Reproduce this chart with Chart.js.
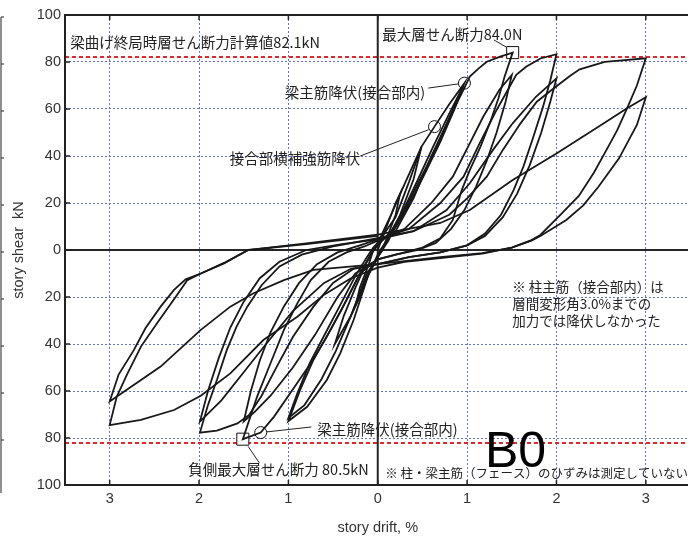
<!DOCTYPE html>
<html>
<head>
<meta charset="utf-8">
<script src="https://cdn.jsdelivr.net/npm/chart.js@4.4.1/dist/chart.umd.min.js"></script>
<style>
  html, body { margin: 0; padding: 0; background: #fff; overflow: hidden; }
  #wrap { width: 700px; height: 539px; }
</style>
</head>
<body>
<div id="wrap"><canvas id="c" width="700" height="539"></canvas></div>
<script>
// Story drift (%) and story shear (kN) recorded for each loading cycle, as [drift, shear]
const cycle025 = [[0,0],[0.1,10],[0.2,20],[0.25,24],[0.2,15],[0.1,5],[0.05,0],[0,-3],[-0.1,-10],[-0.2,-20],[-0.25,-24],[-0.2,-16],[-0.1,-6],[-0.05,0],[0,3]];
const cycle050 = [[0,3],[0.15,15],[0.3,28],[0.49,44],[0.4,30],[0.25,15],[0.12,4],[0.05,0],[0,-3],[-0.15,-14],[-0.3,-28],[-0.48,-40],[-0.38,-28],[-0.25,-16],[-0.12,-5],[-0.05,0],[0,3]];
const cycle100a = [[0,3],[0.2,14],[0.35,29],[0.49,44],[0.635,52.5],[0.8,62],[0.97,71],[0.84,59.6],[0.66,44],[0.47,29.8],[0.32,18.4],[0.21,11.3],[0.1,4],[0.03,0],[0,-2],[-0.1,-10],[-0.27,-29.8],[-0.42,-44],[-0.57,-55.3],[-0.79,-66.7],[-1.0,-72.8],[-0.87,-59.6],[-0.72,-46.8],[-0.53,-34],[-0.35,-21.3],[-0.2,-10],[-0.08,-2],[0,2]];
const cycle100b = [[0,2],[0.15,8],[0.3,18],[0.45,30],[0.62,44],[0.8,58],[0.96,70],[0.86,60],[0.7,46],[0.52,32],[0.36,20],[0.24,12],[0.12,5],[0.05,0],[0,-3],[-0.12,-10],[-0.3,-28],[-0.47,-43],[-0.63,-55],[-0.82,-66],[-1.0,-71.5],[-0.9,-61],[-0.76,-48],[-0.58,-35],[-0.4,-22],[-0.25,-11],[-0.12,-3],[-0.05,1],[0,3]];
const cycle150a = [[0,3],[0.2,8],[0.4,22],[0.6,40],[0.8,56],[0.97,69],[1.03,73.8],[1.13,77.3],[1.22,80.1],[1.37,82.3],[1.51,84.0],[1.42,73.8],[1.35,64.5],[1.26,54.6],[1.15,44],[1.03,34],[0.94,25.5],[0.84,12.8],[0.7,5],[0.5,1],[0.3,-1],[0,-4],[-0.2,-10],[-0.4,-25],[-0.57,-36.9],[-0.75,-48.2],[-0.98,-61],[-1.16,-70.9],[-1.31,-77.7],[-1.51,-80.5],[-1.35,-62.4],[-1.2,-48.2],[-1.05,-34],[-0.9,-22.7],[-0.75,-12.8],[-0.55,-5],[-0.35,-1],[-0.15,1.5],[0,4]];
const cycle150b = [[0,4],[0.3,9],[0.6,20],[0.84,31.2],[1.03,45.4],[1.18,56.7],[1.36,68.1],[1.5,74.5],[1.43,63],[1.33,50],[1.22,38],[1.1,27],[0.97,17],[0.82,9],[0.65,3],[0.45,0],[0.2,-2],[0,-4],[-0.25,-10],[-0.45,-20],[-0.7,-36],[-0.95,-50],[-1.2,-62],[-1.38,-69],[-1.5,-73],[-1.42,-60],[-1.32,-47],[-1.2,-35],[-1.05,-24],[-0.88,-14],[-0.68,-6],[-0.45,-1],[-0.2,2],[0,4.5]];
const cycle200a = [[0,4.5],[0.35,9],[0.7,20],[0.96,31.2],[1.14,45.4],[1.33,59.6],[1.55,74.5],[1.66,78],[1.82,81.5],[2.0,83.3],[1.93,72],[1.85,61],[1.74,48],[1.63,35.5],[1.52,25.5],[1.38,15],[1.2,7],[1.0,2],[0.7,-1],[0.35,-3],[0,-6],[-0.27,-8],[-0.5,-14],[-0.72,-24.1],[-0.95,-37],[-1.13,-49.6],[-1.3,-62],[-1.44,-70.2],[-1.57,-73.8],[-1.8,-76.9],[-1.99,-77.7],[-1.9,-66],[-1.8,-55.3],[-1.69,-42.6],[-1.58,-32.6],[-1.46,-24.1],[-1.3,-15],[-1.1,-7],[-0.85,-2],[-0.5,1.5],[0,5]];
const cycle200b = [[0,5],[0.4,8],[0.77,17],[1.03,28.4],[1.29,42.6],[1.51,53.9],[1.77,65.2],[2.0,73],[1.93,63],[1.83,50],[1.7,36],[1.56,24],[1.4,14],[1.2,6],[1.0,2],[0.7,-1],[0.35,-3],[0,-6],[-0.3,-8],[-0.6,-14],[-0.95,-26],[-1.25,-40],[-1.5,-52],[-1.75,-64],[-1.99,-73],[-1.9,-60],[-1.78,-46],[-1.65,-33],[-1.5,-22],[-1.32,-12],[-1.1,-5],[-0.8,0],[-0.4,2.5],[0,4.5]];
const cycle300a = [[0,4.5],[0.4,8],[0.8,15],[1.0,22],[1.22,31.2],[1.4,42.6],[1.6,54],[1.78,63.1],[1.96,68.5],[2.15,74],[2.26,76.9],[2.54,80.1],[3.0,81.6],[2.9,70],[2.79,60.3],[2.68,51],[2.58,44],[2.42,33],[2.25,23],[2.06,15.6],[1.82,6.4],[1.72,4.2],[1.5,1],[1.17,-1.5],[0.7,-3.5],[0.3,-5],[0,-7.5],[-0.3,-12],[-0.6,-19],[-0.9,-28.4],[-1.28,-38.3],[-1.65,-52.5],[-1.98,-62],[-2.28,-68.1],[-2.65,-72.3],[-3.0,-74.5],[-2.92,-62.4],[-2.8,-52.5],[-2.65,-41.1],[-2.47,-31.2],[-2.26,-19.9],[-2.13,-12.8],[-1.98,-10],[-1.72,-5.7],[-1.45,0],[-0.8,2.8],[0,6.5]];
const cycle300b = [[0,6.5],[0.7,11.5],[1.03,17],[1.51,29.8],[2.0,41.1],[2.5,53.2],[2.79,60.3],[3.0,65],[2.9,53.2],[2.7,39],[2.47,26.9],[2.3,19],[2.11,12.8],[1.82,6],[1.72,4],[1.5,1],[1.17,-1.3],[0.7,-3],[0,-6],[-0.72,-8.5],[-1.05,-12.8],[-1.39,-18.4],[-1.65,-24.1],[-1.98,-34],[-2.43,-49.6],[-3.0,-64.5],[-2.9,-53],[-2.73,-42.6],[-2.6,-33.3],[-2.43,-24.1],[-2.28,-17],[-2.15,-12.5],[-1.98,-10],[-1.72,-5.5],[-1.45,0],[-0.8,2.5],[0,6]];

// Yield events (circles) and peak story shear (squares)
const yieldMarks = [[0.635,52.5],[0.97,71.0],[-1.31,-77.7]];
const peakMarks = [[1.51,84.0],[-1.51,-80.5]];

// Calculated story shear at beam flexural capacity, kN
const calcUltimateShear = 82.1;

// Axis ticks (labels are shown as magnitudes)
const xTickValues = [-3,-2,-1,0,1,2,3];
const xTickLabels = ['3','2','1','0','1','2','3'];
const yTickValues = [-100,-80,-60,-40,-20,0,20,40,60,80,100];
const yTickLabels = ['100','80','60','40','20','0','20','40','60','80','100'];

const loops = [cycle025, cycle050, cycle100a, cycle100b, cycle150a, cycle150b, cycle200a, cycle200b, cycle300a, cycle300b];
const toXY = arr => arr.map(([x, y]) => ({ x, y }));

const datasets = loops.map(c => ({
  data: toXY(c), showLine: true, borderColor: '#181818', borderWidth: 1.8,
  pointRadius: 0, tension: 0, fill: false
}));
datasets.push({
  data: toXY(yieldMarks), showLine: false, pointStyle: 'circle', pointRadius: 6,
  pointBackgroundColor: '#fff', pointBorderColor: '#111', pointBorderWidth: 1
});
datasets.push({
  data: toXY(peakMarks), showLine: false, pointStyle: 'rect', pointRadius: 8.5,
  pointBackgroundColor: '#fff', pointBorderColor: '#111', pointBorderWidth: 1
});

const JP = '"Noto Sans CJK JP", "Noto Sans CJK SC", sans-serif';
const LAT = '"Liberation Sans", Arial, sans-serif';
const GRID_BLUE = 'rgba(72,92,205,0.85)';
const NONE = 'rgba(0,0,0,0)';

const decor = {
  id: 'decor',
  beforeDatasetsDraw(chart) {
    const { ctx, chartArea: a, scales: { x, y } } = chart;
    const seg = (x1, y1, x2, y2) => { ctx.beginPath(); ctx.moveTo(x1, y1); ctx.lineTo(x2, y2); ctx.stroke(); };
    ctx.save();
    // calculated capacity, positive and negative
    ctx.strokeStyle = '#e3262b'; ctx.lineWidth = 2; ctx.setLineDash([4, 3]);
    [calcUltimateShear, -calcUltimateShear].forEach(v => {
      const py = y.getPixelForValue(v); seg(a.left, py, a.right, py);
    });
    ctx.setLineDash([]);
    // zero axes
    ctx.strokeStyle = '#262626'; ctx.lineWidth = 2;
    const x0 = x.getPixelForValue(0), y0 = y.getPixelForValue(0);
    seg(x0, a.top, x0, a.bottom);
    seg(a.left, y0, a.right, y0);
    ctx.restore();
  },
  afterDatasetsDraw(chart) {
    const { ctx, chartArea: a, scales: { x, y } } = chart;
    const seg = (x1, y1, x2, y2) => { ctx.beginPath(); ctx.moveTo(x1, y1); ctx.lineTo(x2, y2); ctx.stroke(); };
    const px = v => x.getPixelForValue(v), py = v => y.getPixelForValue(v);
    ctx.save();
    // frame
    ctx.strokeStyle = '#222'; ctx.lineWidth = 2;
    ctx.strokeRect(a.left, a.top, a.right - a.left, a.bottom - a.top);
    // inward tick marks
    ctx.lineWidth = 1.5;
    xTickValues.forEach(v => { seg(px(v), a.top, px(v), a.top + 5); seg(px(v), a.bottom, px(v), a.bottom - 5); });
    yTickValues.forEach(v => { seg(a.left, py(v), a.left + 5, py(v)); });
    // neighbouring panel edge on the far left
    ctx.strokeStyle = '#444'; ctx.lineWidth = 1.2;
    seg(1, a.top + 2, 1, a.bottom + 8);
    yTickValues.slice(1).forEach(v => seg(1, py(v) + 2, 4, py(v) + 2));

    // leader lines to the marked events
    ctx.strokeStyle = '#222'; ctx.lineWidth = 1;
    seg(px(1.30), py(89.4), px(1.44), py(86.3));
    seg(px(0.565), py(68.9), px(0.905), py(70.7));
    seg(px(-0.196), py(40.0), px(0.57), py(51.2));
    seg(px(-0.743), py(-75.3), px(-1.24), py(-77.4));
    seg(px(-1.45), py(-83.6), px(-1.325), py(-90.6));

    // annotations
    ctx.fillStyle = '#222'; ctx.textBaseline = 'middle';
    ctx.font = '14.5px ' + JP;
    ctx.textAlign = 'left';
    ctx.fillText('梁曲げ終局時層せん断力計算値82.1kN', px(-3.44), py(88.1));
    ctx.fillText('最大層せん断力84.0N', px(0.05), py(91.9));
    ctx.fillText('梁主筋降伏(接合部内)', px(-0.677), py(-76.2));
    ctx.fillText('負側最大層せん断力 80.5kN', px(-2.12), py(-93.6));
    ctx.textAlign = 'right';
    ctx.fillText('梁主筋降伏(接合部内)', px(0.53), py(67.2));
    ctx.fillText('接合部横補強筋降伏', px(-0.196), py(39.1));
    ctx.textAlign = 'left';
    ctx.font = '13.5px ' + JP;
    ctx.fillText('※ 柱主筋（接合部内）は', px(1.504), py(-15.7));
    ctx.fillText('層間変形角3.0%までの', px(1.504), py(-23.0));
    ctx.fillText('加力では降伏しなかった', px(1.504), py(-30.2));
    ctx.font = '12.5px ' + JP;
    ctx.fillText('※ 柱・梁主筋（フェース）のひずみは測定していない', px(0.084), py(-94.9));
    ctx.font = '50px ' + LAT;
    ctx.textBaseline = 'alphabetic';
    ctx.fillStyle = '#000';
    ctx.fillText('B0', px(1.2), py(-92.3));
    ctx.restore();
  }
};

new Chart(document.getElementById('c'), {
  type: 'scatter',
  data: { datasets },
  options: {
    responsive: false,
    animation: false,
    layout: { padding: { top: 15, right: 9, left: 0, bottom: 0 } },
    plugins: { legend: { display: false }, tooltip: { enabled: false } },
    scales: {
      x: {
        type: 'linear', min: -3.5, max: 3.5,
        afterBuildTicks: s => { s.ticks = xTickValues.map(v => ({ value: v })); },
        afterFit: s => { s.height = 54; },
        ticks: {
          callback: (v, i) => xTickLabels[i],
          font: { family: LAT, size: 14.5 }, color: '#333', padding: 5,
          maxRotation: 0, autoSkip: false
        },
        grid: {
          drawTicks: false, lineWidth: 1,
          color: c => (c.tick && c.tick.value === 0) ? NONE : GRID_BLUE
        },
        border: { display: false, dash: [2, 2] },
        title: {
          display: true, text: 'story drift, %', color: '#333',
          font: { family: LAT, size: 14.5 }, padding: { top: 0, bottom: 2 }
        }
      },
      y: {
        type: 'linear', min: -100, max: 100,
        afterBuildTicks: s => { s.ticks = yTickValues.map(v => ({ value: v })); },
        afterFit: s => { s.width = 65; },
        ticks: {
          callback: (v, i) => yTickLabels[i],
          font: { family: LAT, size: 14.5 }, color: '#333', padding: 4, autoSkip: false
        },
        grid: {
          drawTicks: false, lineWidth: 1,
          color: c => (c.tick && (c.tick.value === 0 || Math.abs(c.tick.value) === 100)) ? NONE : GRID_BLUE
        },
        border: { display: false, dash: [2, 2] },
        title: {
          display: true, text: 'story shear  kN', color: '#333',
          font: { family: LAT, size: 14.5 }, padding: { top: 10, bottom: 0 }
        }
      }
    }
  },
  plugins: [decor]
});
</script>
</body>
</html>
